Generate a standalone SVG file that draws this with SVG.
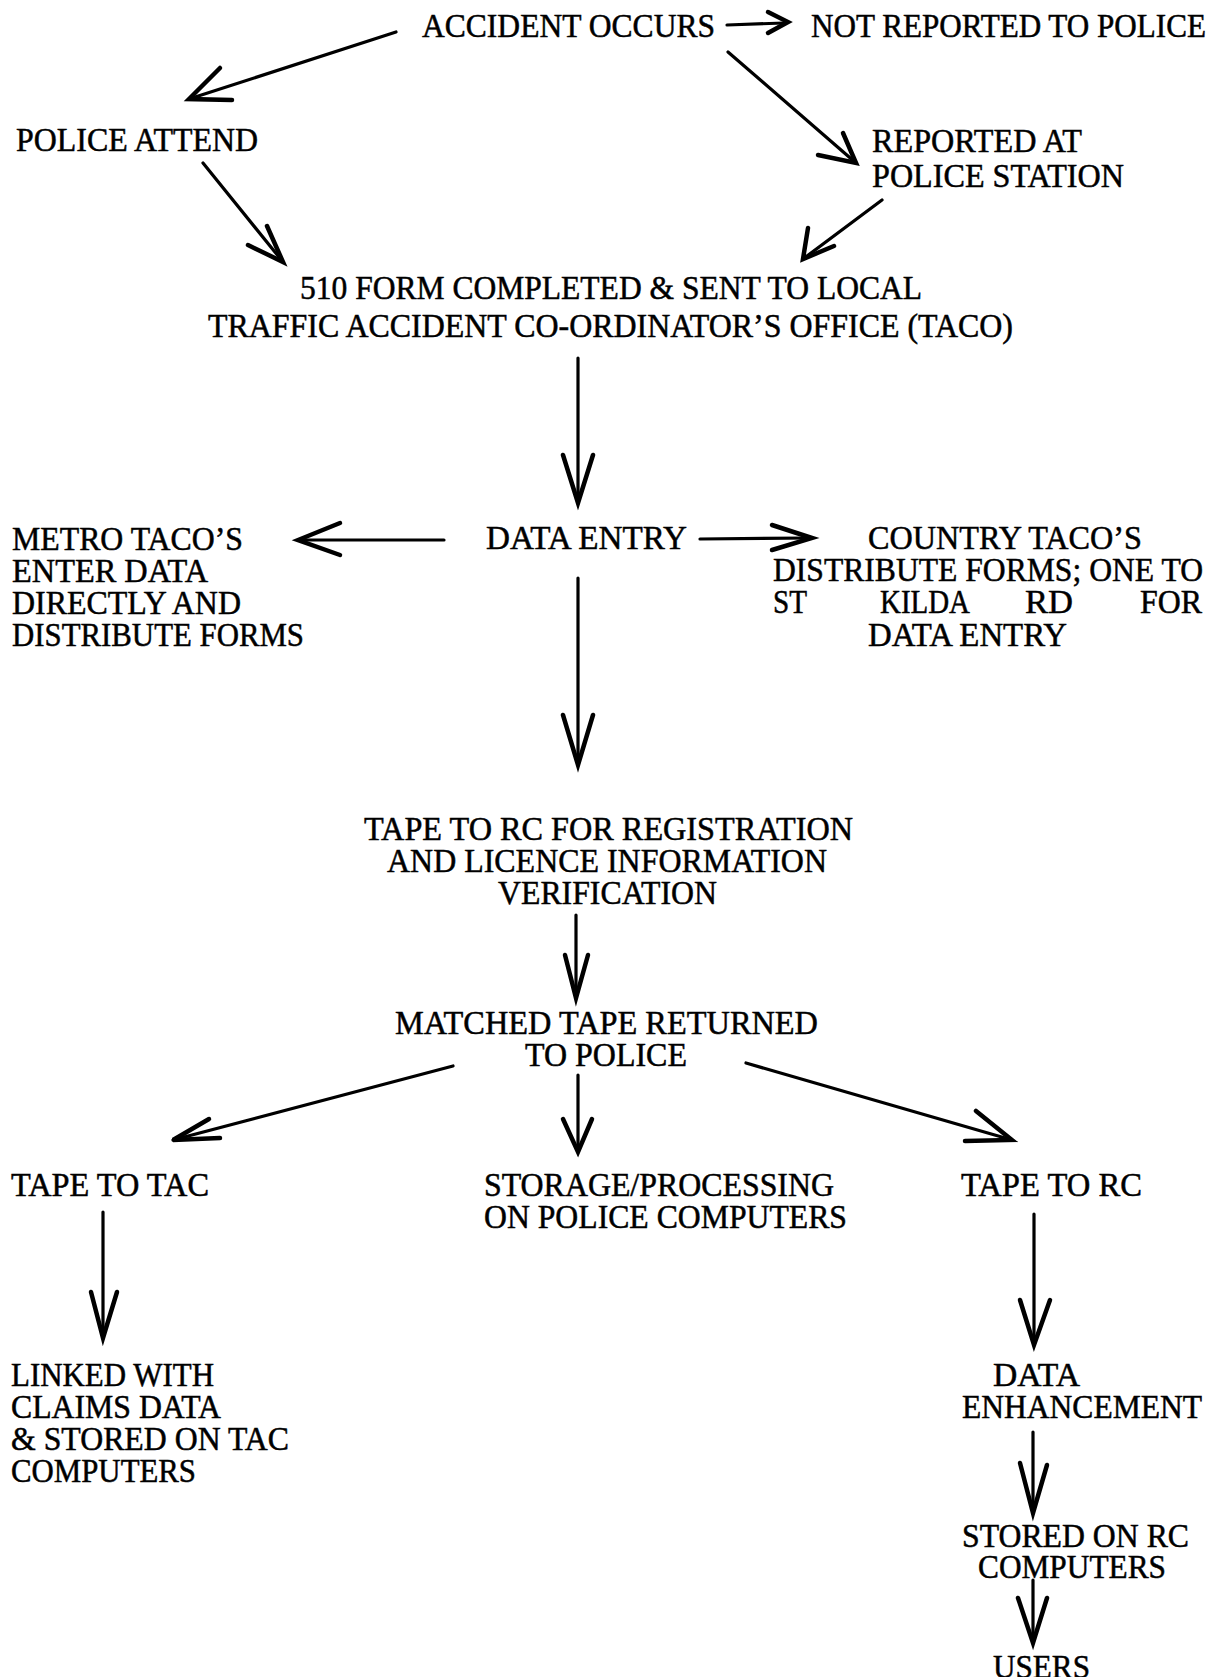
<svg xmlns="http://www.w3.org/2000/svg" width="1227" height="1677" viewBox="0 0 1227 1677">
<style>
.t{font-family:"Liberation Serif","Times New Roman",serif;font-size:33px;fill:#000;stroke:#000;stroke-width:0.5}
.c{stroke:#000;stroke-width:3.2;fill:none;stroke-linecap:round;stroke-linejoin:round}
.h{stroke:#000;stroke-width:4.5;fill:none;stroke-linecap:round;stroke-linejoin:miter}
</style>
<rect width="1227" height="1677" fill="#fff"/>
<g id="n-accident"><text class="t" x="422" y="37" textLength="293" lengthAdjust="spacingAndGlyphs">ACCIDENT OCCURS</text></g>
<g id="n-notreported"><text class="t" x="811" y="37" textLength="395" lengthAdjust="spacingAndGlyphs">NOT REPORTED TO POLICE</text></g>
<g id="n-policeattend"><text class="t" x="16" y="151" textLength="242" lengthAdjust="spacingAndGlyphs">POLICE ATTEND</text></g>
<g id="n-reported"><text class="t" x="872" y="152" textLength="210" lengthAdjust="spacingAndGlyphs">REPORTED AT</text><text class="t" x="872" y="187" textLength="252" lengthAdjust="spacingAndGlyphs">POLICE STATION</text></g>
<g id="n-510"><text class="t" x="300" y="299" textLength="622" lengthAdjust="spacingAndGlyphs">510 FORM COMPLETED &amp; SENT TO LOCAL</text><text class="t" x="208" y="337" textLength="805" lengthAdjust="spacingAndGlyphs">TRAFFIC ACCIDENT CO-ORDINATOR’S OFFICE (TACO)</text></g>
<g id="n-dataentry"><text class="t" x="486" y="549" textLength="201" lengthAdjust="spacingAndGlyphs">DATA ENTRY</text></g>
<g id="n-metro"><text class="t" x="12" y="550" textLength="231" lengthAdjust="spacingAndGlyphs">METRO TACO’S</text><text class="t" x="12" y="582" textLength="196" lengthAdjust="spacingAndGlyphs">ENTER DATA</text><text class="t" x="12" y="614" textLength="229" lengthAdjust="spacingAndGlyphs">DIRECTLY AND</text><text class="t" x="12" y="646" textLength="292" lengthAdjust="spacingAndGlyphs">DISTRIBUTE FORMS</text></g>
<g id="n-country"><text class="t" x="868" y="549" textLength="274" lengthAdjust="spacingAndGlyphs">COUNTRY TACO’S</text><text class="t" x="773" y="581" textLength="430" lengthAdjust="spacingAndGlyphs">DISTRIBUTE FORMS; ONE TO</text><text class="t" x="773" y="613" textLength="34" lengthAdjust="spacingAndGlyphs">ST</text><text class="t" x="880" y="613" textLength="90" lengthAdjust="spacingAndGlyphs">KILDA</text><text class="t" x="1025" y="613" textLength="48" lengthAdjust="spacingAndGlyphs">RD</text><text class="t" x="1140" y="613" textLength="62" lengthAdjust="spacingAndGlyphs">FOR</text><text class="t" x="868" y="646" textLength="199" lengthAdjust="spacingAndGlyphs">DATA ENTRY</text></g>
<g id="n-taperc-reg"><text class="t" x="364" y="840" textLength="489" lengthAdjust="spacingAndGlyphs">TAPE TO RC FOR REGISTRATION</text><text class="t" x="387" y="872" textLength="440" lengthAdjust="spacingAndGlyphs">AND LICENCE INFORMATION</text><text class="t" x="498" y="904" textLength="219" lengthAdjust="spacingAndGlyphs">VERIFICATION</text></g>
<g id="n-matched"><text class="t" x="395" y="1034" textLength="423" lengthAdjust="spacingAndGlyphs">MATCHED TAPE RETURNED</text><text class="t" x="525" y="1066" textLength="162" lengthAdjust="spacingAndGlyphs">TO POLICE</text></g>
<g id="n-tapetac"><text class="t" x="11" y="1196" textLength="198" lengthAdjust="spacingAndGlyphs">TAPE TO TAC</text></g>
<g id="n-storage"><text class="t" x="484" y="1196" textLength="350" lengthAdjust="spacingAndGlyphs">STORAGE/PROCESSING</text><text class="t" x="484" y="1228" textLength="363" lengthAdjust="spacingAndGlyphs">ON POLICE COMPUTERS</text></g>
<g id="n-taperc"><text class="t" x="961" y="1196" textLength="181" lengthAdjust="spacingAndGlyphs">TAPE TO RC</text></g>
<g id="n-linked"><text class="t" x="11" y="1386" textLength="203" lengthAdjust="spacingAndGlyphs">LINKED WITH</text><text class="t" x="11" y="1418" textLength="210" lengthAdjust="spacingAndGlyphs">CLAIMS DATA</text><text class="t" x="11" y="1450" textLength="278" lengthAdjust="spacingAndGlyphs">&amp; STORED ON TAC</text><text class="t" x="11" y="1482" textLength="185" lengthAdjust="spacingAndGlyphs">COMPUTERS</text></g>
<g id="n-enhance"><text class="t" x="993" y="1386" textLength="87" lengthAdjust="spacingAndGlyphs">DATA</text><text class="t" x="962" y="1418" textLength="240" lengthAdjust="spacingAndGlyphs">ENHANCEMENT</text></g>
<g id="n-storedrc"><text class="t" x="962" y="1547" textLength="227" lengthAdjust="spacingAndGlyphs">STORED ON RC</text><text class="t" x="978" y="1578" textLength="188" lengthAdjust="spacingAndGlyphs">COMPUTERS</text></g>
<g id="n-users"><text class="t" x="993" y="1678" textLength="97" lengthAdjust="spacingAndGlyphs">USERS</text></g>
<g id="connectors">
<path class="c" d="M727,25 L784,23"/><path class="h" d="M768,12 L788,22 L768,33"/>
<path class="c" d="M396,32 L189,99"/><path class="h" d="M220,68 L189,99 L232,100"/>
<path class="c" d="M728,52 L856,163"/><path class="h" d="M843,133 L856,163 L818,155"/>
<path class="c" d="M203,163 L283,262"/><path class="h" d="M248,245 L283,262 L267,226"/>
<path class="c" d="M882,200 L803,259"/><path class="h" d="M808,228 L803,259 L834,246"/>
<path class="c" d="M578,358 L578,503"/><path class="h" d="M563,455 L578,503 L593,455"/>
<path class="c" d="M444,540 L300,540"/><path class="h" d="M340,523 L298,540 L340,555"/>
<path class="c" d="M700,539 L810,538"/><path class="h" d="M772,525 L812,538 L772,550"/>
<path class="c" d="M578,578 L578,765"/><path class="h" d="M563,715 L578,765 L593,715"/>
<path class="c" d="M576,915 L576,998"/><path class="h" d="M565,955 L576,998 L588,955"/>
<path class="c" d="M453,1066 L173,1140"/><path class="h" d="M209,1119 L173,1140 L220,1138"/>
<path class="c" d="M578,1075 L578,1152"/><path class="h" d="M563,1119 L578,1152 L592,1119"/>
<path class="c" d="M746,1063 L1012,1140"/><path class="h" d="M976,1111 L1012,1140 L965,1141"/>
<path class="c" d="M103,1212 L103,1338"/><path class="h" d="M91,1292 L103,1338 L117,1292"/>
<path class="c" d="M1034,1214 L1034,1345"/><path class="h" d="M1020,1300 L1034,1345 L1050,1300"/>
<path class="c" d="M1033,1432 L1033,1513"/><path class="h" d="M1020,1463 L1033,1513 L1047,1465"/>
<path class="c" d="M1033,1580 L1033,1643"/><path class="h" d="M1018,1598 L1033,1643 L1047,1598"/>
</g>
</svg>
